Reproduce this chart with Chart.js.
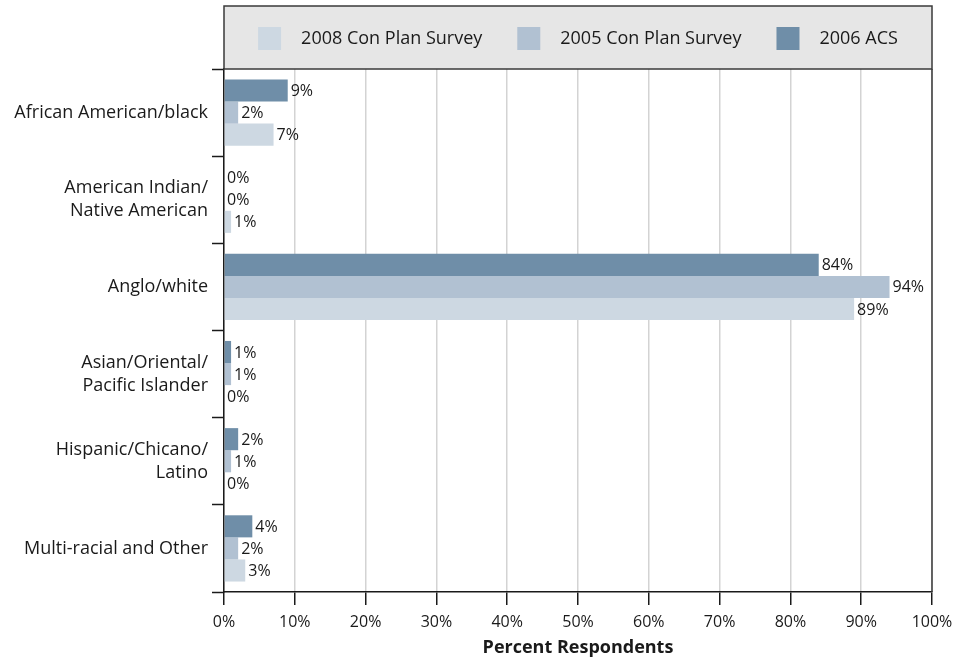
<!DOCTYPE html>
<html>
<head>
<meta charset="utf-8">
<title>Race / Ethnicity of Respondents</title>
<script src="https://cdn.jsdelivr.net/npm/chart.js@4.4.1/dist/chart.umd.min.js"></script>
<style>
  html, body { margin: 0; padding: 0; background: #ffffff; }
  #wrap { width: 961px; height: 659px; position: relative; }
</style>
</head>
<body>
<div id="wrap"><canvas id="chart" width="961" height="659"></canvas></div>
<script>
// Categories (multi-line labels as arrays)
const categories = [
  'African American/black',
  ['American Indian/', 'Native American'],
  'Anglo/white',
  ['Asian/Oriental/', 'Pacific Islander'],
  ['Hispanic/Chicano/', 'Latino'],
  'Multi-racial and Other'
];

// Percent of respondents per series
const acs2006     = [9, 0, 84, 1, 2, 4];
const survey2005  = [2, 0, 94, 1, 1, 2];
const survey2008  = [7, 1, 89, 0, 0, 3];

const seriesNames = ['2006 ACS', '2005 Con Plan Survey', '2008 Con Plan Survey'];
const xTicks = [0, 10, 20, 30, 40, 50, 60, 70, 80, 90, 100];
const axisTitle = 'Percent Respondents';

const COLORS = ['#6f8ea8', '#b1c1d2', '#cdd8e2'];
const FONT = '"Open Sans", "Noto Sans", sans-serif';

// Gray legend box above the plot, with items listed in reverse order
const legendBox = {
  id: 'legendBox',
  beforeDraw(chart) {
    const { ctx, chartArea } = chart;
    const top = 6;
    ctx.save();
    ctx.fillStyle = '#e6e6e6';
    ctx.fillRect(chartArea.left, top, chartArea.right - chartArea.left, chartArea.top - top);
    ctx.restore();
  },
  afterDraw(chart) {
    const { ctx, chartArea } = chart;
    const top = 6;
    ctx.save();
    ctx.strokeStyle = '#3a3a3a';
    ctx.lineWidth = 1.5;
    ctx.strokeRect(chartArea.left, top, chartArea.right - chartArea.left, chartArea.top - top);
    ctx.beginPath();
    ctx.moveTo(chartArea.right, chartArea.top);
    ctx.lineTo(chartArea.right, chartArea.bottom);
    ctx.stroke();

    ctx.font = '18px ' + FONT;
    ctx.textBaseline = 'middle';
    const box = 23, gapIn = 20, gapOut = 35;
    const items = chart.data.datasets.map((d, i) => ({ text: d.label, color: d.backgroundColor })).reverse();
    let total = 0;
    items.forEach((it, i) => {
      it.w = ctx.measureText(it.text).width;
      total += box + gapIn + it.w + (i < items.length - 1 ? gapOut : 0);
    });
    let x = (chartArea.left + chartArea.right) / 2 - total / 2;
    const cy = (top + chartArea.top) / 2 + 1;
    items.forEach(it => {
      ctx.fillStyle = it.color;
      ctx.fillRect(x, cy - box / 2, box, box);
      x += box + gapIn;
      ctx.fillStyle = '#1a1a1a';
      ctx.fillText(it.text, x, cy);
      x += it.w + gapOut;
    });
    ctx.restore();
  }
};

// Value labels at the end of each bar
const valueLabels = {
  id: 'valueLabels',
  afterDatasetsDraw(chart) {
    const { ctx } = chart;
    ctx.save();
    ctx.font = '16px ' + FONT;
    ctx.fillStyle = '#1a1a1a';
    ctx.textBaseline = 'middle';
    ctx.textAlign = 'left';
    chart.data.datasets.forEach((ds, di) => {
      chart.getDatasetMeta(di).data.forEach((bar, i) => {
        ctx.fillText(ds.data[i] + '%', bar.x + 3, bar.y + 1);
      });
    });
    ctx.restore();
  }
};

new Chart(document.getElementById('chart'), {
  type: 'bar',
  data: {
    labels: categories,
    datasets: [
      { label: seriesNames[0], data: acs2006,    backgroundColor: COLORS[0] },
      { label: seriesNames[1], data: survey2005, backgroundColor: COLORS[1] },
      { label: seriesNames[2], data: survey2008, backgroundColor: COLORS[2] }
    ]
  },
  options: {
    indexAxis: 'y',
    responsive: false,
    animation: false,
    events: [],
    datasets: { bar: { categoryPercentage: 0.76, barPercentage: 1.0 } },
    layout: { padding: { top: 69, right: 29, left: 0, bottom: 0 } },
    plugins: {
      legend: { display: false },
      tooltip: { enabled: false }
    },
    scales: {
      x: {
        min: 0,
        max: 100,
        afterBuildTicks(scale) { scale.ticks = xTicks.map(v => ({ value: v })); },
        afterFit(scale) { scale.height = 659 - 592; },
        ticks: {
          callback: v => v + '%',
          color: '#1a1a1a',
          font: { family: FONT, size: 16 },
          padding: 8,
          maxRotation: 0
        },
        grid: {
          color: '#d3d3d3',
          lineWidth: 1.5,
          tickColor: '#1a1a1a',
          tickLength: 13,
          tickWidth: 1.5
        },
        border: { color: '#1a1a1a', width: 1.5 },
        title: {
          display: true,
          text: axisTitle,
          color: '#1a1a1a',
          font: { family: FONT, size: 18, weight: 'bold' },
          padding: { top: 0, bottom: 0 }
        }
      },
      y: {
        afterFit(scale) { scale.width = 224; },
        ticks: {
          color: '#1a1a1a',
          font: { family: FONT, size: 18, lineHeight: 1.28 },
          padding: 4
        },
        grid: {
          offset: true,
          drawOnChartArea: false,
          tickColor: '#1a1a1a',
          tickLength: 12,
          tickWidth: 1.5
        },
        border: { color: '#1a1a1a', width: 1.5 }
      }
    }
  },
  plugins: [legendBox, valueLabels]
});
</script>
</body>
</html>
